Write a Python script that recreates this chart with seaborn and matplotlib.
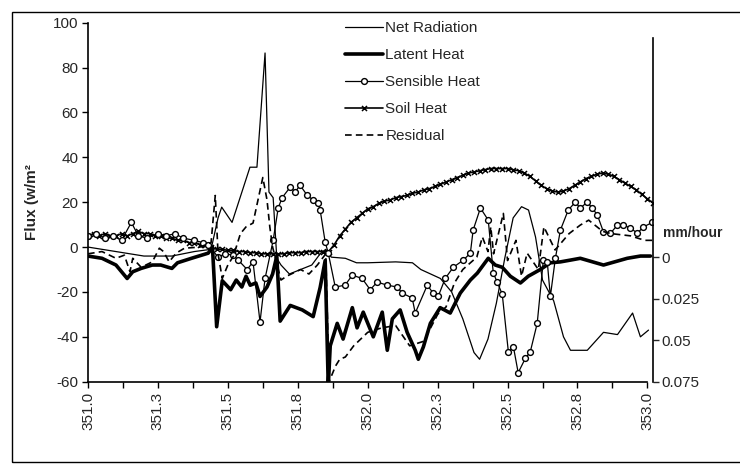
import matplotlib
matplotlib.use("Agg")
import matplotlib.pyplot as plt
import seaborn as sns
from matplotlib.patches import Rectangle

# ---------------- data ----------------
net_x = [351.00, 351.05, 351.10, 351.20, 351.30, 351.38, 351.44, 351.465, 351.478, 351.515,
         351.579, 351.604, 351.633, 351.647, 351.662, 351.675, 351.69, 351.72, 351.76, 351.80,
         351.83, 351.85, 351.87, 351.92, 351.96, 352.00, 352.10, 352.16, 352.19, 352.26,
         352.30, 352.34, 352.38, 352.40, 352.43, 352.46, 352.49, 352.52, 352.55, 352.575,
         352.60, 352.625, 352.665, 352.70, 352.725, 352.785, 352.843, 352.893, 352.947, 352.975,
         353.004]
net_y = [0, -1, -2, -4, -4, -2, -1, 13, 17.8, 11,
         35.6, 35.6, 86.5, 24.5, 22, -5, -8, -12, -10, -8,
         -3, -1, -4.5, -5, -7, -7, -6.6, -7, -10, -14,
         -20, -32, -47, -50, -41, -25, -5, 13, 18, 16.5,
         4.5, -14.7, -24, -40, -46, -46, -38, -39, -29.4, -40,
         -37]

lat_x = [351.00, 351.05, 351.10, 351.14, 351.16, 351.19, 351.23, 351.26, 351.30, 351.32,
         351.37, 351.43, 351.445, 351.46, 351.48, 351.51, 351.53, 351.55, 351.565, 351.58,
         351.60, 351.615, 351.64, 351.66, 351.675, 351.687, 351.723, 351.766, 351.805, 351.830,
         351.848, 351.859, 351.866, 351.891, 351.912, 351.945, 351.962, 351.984, 352.020, 352.052,
         352.070, 352.088, 352.116, 352.141, 352.170, 352.181, 352.199, 352.224, 352.259, 352.295,
         352.331, 352.367, 352.392, 352.431, 352.456, 352.481, 352.510, 352.546, 352.574, 352.617,
         352.653, 352.689, 352.725, 352.760, 352.843, 352.928, 352.975, 353.011]
lat_y = [-4, -5, -8, -14, -11, -9.5, -8, -8, -9.5, -7,
         -5, -2.7, 0, -35.5, -15, -19, -14.7, -17.8, -13, -17,
         -16, -22, -17.8, -12, -4, -33, -26, -28, -31, -18,
         -6, -62, -44, -34, -41, -27, -36, -29, -40, -29,
         -46, -32, -28, -38, -46, -50, -44.5, -34, -27, -29.4,
         -20.5, -14.7, -11.6, -5, -8, -9, -13, -16, -13, -10,
         -7, -6.6, -5.8, -5, -8, -5, -4, -4]

sen_x = [351.00, 351.03, 351.06, 351.09, 351.12, 351.155, 351.18, 351.21, 351.25, 351.28,
         351.31, 351.34, 351.38, 351.41, 351.43, 351.465, 351.49, 351.519, 351.537, 351.569,
         351.590, 351.615, 351.633, 351.662, 351.680, 351.694, 351.723, 351.741, 351.758, 351.784,
         351.805, 351.823, 351.830, 351.848, 351.859, 351.884, 351.919, 351.945, 351.980, 352.009,
         352.034, 352.070, 352.106, 352.123, 352.159, 352.170, 352.213, 352.234, 352.252, 352.277,
         352.306, 352.342, 352.367, 352.377, 352.403, 352.431, 352.449, 352.463, 352.481, 352.503,
         352.521, 352.538, 352.564, 352.581, 352.606, 352.628, 352.642, 352.653, 352.671, 352.689,
         352.717, 352.742, 352.760, 352.785, 352.803, 352.821, 352.843, 352.868, 352.893, 352.914,
         352.939, 352.964, 352.986, 353.018]
sen_y = [5, 6, 4, 5, 3, 11, 5, 4, 6, 5,
         6, 4, 3, 2, 1, -4.5, -3, -3.6, -5.8, -10,
         -6.6, -33.4, -14, 3, 17.4, 22, 26.7, 24.5, 27.6, 23,
         21, 19.6, 16.5, 2.2, -2.7, -17.8, -17, -12.5, -14, -19,
         -15.6, -17, -17.8, -20.5, -22.7, -29.4, -17, -20.5, -22, -14,
         -9, -5.8, -2.7, 7.6, 17.4, 12, -11.6, -15.6, -21, -46.8,
         -44.5, -56, -49.5, -46.8, -34, -5.8, -6.6, -22, -5, 7.6,
         16.5, 20, 17.4, 20, 17.4, 14.3, 6.7, 6.2, 9.8, 9.8,
         8.5, 6.2, 9, 11]

soil_x = [351.00, 351.02, 351.04, 351.06, 351.08, 351.10, 351.12, 351.14, 351.16, 351.18,
          351.20, 351.22, 351.24, 351.26, 351.28, 351.30, 351.32, 351.34, 351.36, 351.38,
          351.40, 351.42, 351.44, 351.46, 351.48, 351.50, 351.52, 351.54, 351.56, 351.58,
          351.60, 351.62, 351.64, 351.66, 351.68, 351.70, 351.72, 351.74, 351.76, 351.78,
          351.80, 351.82, 351.84, 351.86, 351.88, 351.90, 351.92, 351.94, 351.96, 351.98,
          352.00, 352.02, 352.04, 352.06, 352.08, 352.10, 352.12, 352.14, 352.16, 352.18,
          352.20, 352.22, 352.24, 352.26, 352.28, 352.30, 352.32, 352.34, 352.36, 352.38,
          352.40, 352.42, 352.44, 352.46, 352.48, 352.50, 352.52, 352.54, 352.56, 352.58,
          352.60, 352.62, 352.64, 352.66, 352.68, 352.70, 352.72, 352.74, 352.76, 352.78,
          352.80, 352.82, 352.84, 352.86, 352.88, 352.90, 352.92, 352.94, 352.96, 352.98,
          353.00, 353.02]
soil_y = [5, 6, 5, 6, 5, 5, 6, 5, 6, 7,
          6, 6, 5, 5, 4, 4, 3, 3, 2, 2,
          1, 1, 0, -1, -1, -1.5, -1.5, -2, -2, -2.5,
          -2.5, -3, -3, -3, -3, -3, -2.5, -2.5, -2.5, -2,
          -2, -2, -2, -2, 1, 5, 8, 11, 13, 15,
          17, 18, 19.5, 20.5, 21, 22, 22.5, 23, 24, 24.5,
          25.5, 26, 27, 28, 29, 30, 31, 32, 33, 33.5,
          34, 34.5, 35, 35, 35, 35, 34.5, 34, 33, 31.5,
          29.5, 27.5, 26, 25, 24.5, 25, 26, 27.5, 29, 30.5,
          31.5, 32.5, 33, 32.5, 31.5, 30, 28.5, 27, 25.5, 23.5,
          21.5, 19.6]

res_x = [351.00, 351.05, 351.10, 351.13, 351.15, 351.16, 351.19, 351.23, 351.255, 351.27,
         351.29, 351.315, 351.345, 351.40, 351.44, 351.455, 351.465, 351.48, 351.50, 351.52,
         351.545, 351.565, 351.59, 351.625, 351.64, 351.65, 351.66, 351.69, 351.71, 351.76,
         351.79, 351.82, 351.85, 351.862, 351.885, 351.90, 351.92, 351.95, 352.00, 352.05,
         352.10, 352.15, 352.20, 352.25, 352.28, 352.31, 352.34, 352.39, 352.41, 352.43,
         352.44, 352.45, 352.485, 352.50, 352.53, 352.55, 352.57, 352.61, 352.63, 352.67,
         352.72, 352.76, 352.79, 352.84, 352.87, 352.94, 352.99, 353.02]
res_y = [-3, -2, -5, -3.6, -11, -5, -9, -6.6, -0.5, -2,
         -6.6, -2.7, -0.5, 0, 2, 23, -3, -14, -8, -4,
         6, 9, 10.7, 31, 21, 9, 0, -14.7, -13, -10,
         -12, -8, -3, -60, -53, -50, -49, -44, -38, -36,
         -35, -44, -42, -30, -26.7, -16, -10, -4.5, 4.5, -2,
         9, -3, 15, -6, 3, -13, -2.7, -10, 9, -1.3,
         6, 9.8, 12, 7, 6, 5, 3, 3]

series_labels = ["Net Radiation", "Latent Heat", "Sensible Heat", "Soil Heat", "Residual"]
x_tick_values = [351.0, 351.25, 351.5, 351.75, 352.0, 352.25, 352.5, 352.75, 353.0]
x_tick_labels = ["351.0", "351.3", "351.5", "351.8", "352.0", "352.3", "352.5", "352.8", "353.0"]
y_ticks = [-60, -40, -20, 0, 20, 40, 60, 80, 100]
y2_ticks = [0, 0.025, 0.05, 0.075]
y2_tick_labels = ["0", "0.025", "0.05", "0.075"]

# ---------------- style ----------------
sns.set_style("white")
plt.rcParams["font.family"] = ["Liberation Sans", "DejaVu Sans"]

fig = plt.figure(figsize=(7.4, 4.75), dpi=100)
ax = fig.add_axes([88 / 740, 1 - 381.7 / 475, (653 - 88) / 740, 359 / 475])
ax.set_facecolor("white")

k = dict(ax=ax, color="black", sort=False, estimator=None)
sns.lineplot(x=net_x, y=net_y, lw=0.9, label=series_labels[0], **k)
sns.lineplot(x=lat_x, y=lat_y, lw=2.6, label=series_labels[1], **k)
sns.lineplot(x=soil_x, y=soil_y, lw=1.2, marker="x", markersize=3.6,
             markeredgewidth=1.1, markeredgecolor="black", label=series_labels[3], **k)
sns.lineplot(x=sen_x, y=sen_y, lw=0.9, marker="o", markersize=4.2,
             markerfacecolor="white", markeredgecolor="black", markeredgewidth=1.0,
             label=series_labels[2], **k)
sns.lineplot(x=res_x, y=res_y, lw=1.2, label=series_labels[4], **k)
ax.lines[-1].set_dashes([4, 2.5])

ax.set_xlim(351.0, 353.02)
ax.set_ylim(-60, 100)
ax.set_xticks(x_tick_values)
ax.set_xticklabels(x_tick_labels, rotation=90, fontsize=11)
ax.set_xticks([v + 0.125 for v in x_tick_values[:-1]], minor=True)
ax.set_yticks(y_ticks)
ax.set_yticklabels([str(v) for v in y_ticks], fontsize=11)
ax.tick_params(axis="both", which="both", direction="out", length=4, width=1,
               color="black", left=True, bottom=True, pad=3)
ax.tick_params(axis="x", which="minor", length=4)
for s in ["top", "right"]:
    ax.spines[s].set_visible(False)
for s in ["left", "bottom"]:
    ax.spines[s].set_color("black")
    ax.spines[s].set_linewidth(1.2)
ax.spines["bottom"].set_bounds(351.0, 353.0)
ax.set_xlabel("")
ax.set_ylabel("Flux (w/m²", fontsize=11, fontweight="bold", labelpad=10)

# secondary axis
ax2 = ax.twinx()
ax2.set_ylim(0.074, -0.141)
ax2.set_yticks(y2_ticks)
ax2.set_yticklabels(y2_tick_labels, fontsize=11)
ax2.tick_params(axis="y", direction="out", length=4, width=1, right=True, pad=2)
for s in ["top", "left", "bottom"]:
    ax2.spines[s].set_visible(False)
ax2.spines["right"].set_color("black")
ax2.spines["right"].set_linewidth(1.2)
ax2.spines["right"].set_bounds(-0.132, 0.075)
ax2.text(1.017, (381.7 - 233) / 359, "mm/hour", transform=ax.transAxes,
         fontsize=10, fontweight="bold", va="center", ha="left")
ax2.grid(False)
ax.grid(False)

# legend
handles, labels = ax.get_legend_handles_labels()
order = [labels.index(l) for l in series_labels]
ax.legend([handles[i] for i in order], [labels[i] for i in order],
          loc="upper left", bbox_to_anchor=(345 / 740, 1 - 21 / 475),
          bbox_transform=fig.transFigure, frameon=False, fontsize=11,
          handlelength=2.5, handletextpad=0.15, labelspacing=0.85,
          borderpad=0, borderaxespad=0)

# scanned-page border
fig.patches.append(Rectangle((12 / 740, 1 - 462 / 475), 1.5, (462 - 12) / 475,
                             transform=fig.transFigure, fill=False,
                             edgecolor="black", lw=1.0))

fig.savefig("out.png", dpi=100, facecolor="white")
